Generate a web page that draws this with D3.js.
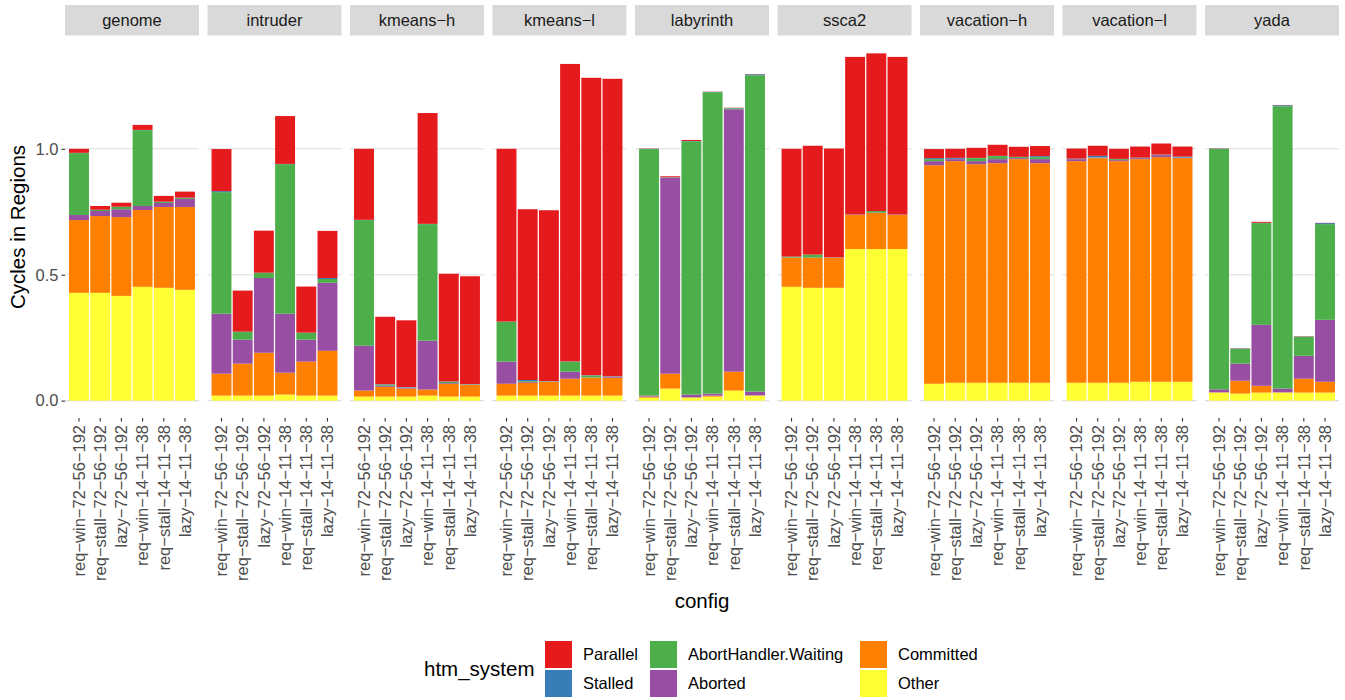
<!DOCTYPE html>
<html lang="en">
<head>
  <meta charset="UTF-8">
  <title>Cycles in Regions</title>
  <style>
    body { margin: 0; background: #fff; }
    text { font-family: "Liberation Sans", Arial, sans-serif; }
  </style>
</head>
<body>
<script src="https://d3js.org/d3.v7.min.js"></script>
<div id="chart"></div>
<script>
// ---- data ------------------------------------------------------------
const benchmarks = ["genome", "intruder", "kmeans-h", "kmeans-l", "labyrinth",
  "ssca2", "vacation-h", "vacation-l", "yada"];
const configs = ["req-win-72-56-192", "req-stall-72-56-192", "lazy-72-56-192",
  "req-win-14-11-38", "req-stall-14-11-38", "lazy-14-11-38"];

// one row per benchmark, one value per config
const other = [
  [.428, .428, .416, .452, .448, .440],
  [.020, .020, .020, .024, .020, .020],
  [.016, .016, .016, .020, .016, .016],
  [.020, .020, .020, .020, .020, .020],
  [.012, .048, .012, .016, .040, .020],
  [.452, .448, .448, .602, .602, .602],
  [.067, .071, .071, .071, .071, .071],
  [.071, .071, .071, .075, .075, .075],
  [.032, .028, .032, .032, .032, .032]
];
const committed = [
  [.289, .305, .313, .305, .321, .329],
  [.087, .127, .170, .087, .135, .178],
  [.024, .039, .032, .024, .051, .047],
  [.047, .051, .055, .067, .071, .071],
  [.004, .059, .001, .004, .075, .001],
  [.115, .119, .119, .135, .143, .135],
  [.868, .880, .868, .872, .888, .872],
  [.880, .892, .880, .884, .892, .888],
  [.001, .051, .027, .001, .055, .043]
];
const aborted = [
  [.020, .020, .031, .016, .016, .032],
  [.238, .095, .297, .234, .087, .270],
  [.178, .004, .004, .194, .003, .001],
  [.088, .004, .001, .028, .001, .004],
  [.004, .778, .011, .008, 1.042, .015],
  [.001, .001, .001, .001, .002, .001],
  [.016, .008, .012, .016, .004, .016],
  [.008, .002, .004, .004, .008, .001],
  [.012, .068, .242, .015, .091, .246]
];
const waiting = [
  [.246, .004, .009, .301, .004, .004],
  [.483, .031, .020, .594, .027, .015],
  [.499, .004, .001, .463, .005, .001],
  [.158, .003, .001, .040, .008, .001],
  [.979, .001, 1.006, 1.197, .004, 1.256],
  [.004, .012, .001, .001, .006, .001],
  [.008, .001, .012, .012, .004, .008],
  [.001, .001, .004, .001, .001, .001],
  [.955, .059, .404, 1.121, .076, .380]
];
const stalled = [
  [.001, .001, .001, .001, .001, .001],
  [.004, .001, .001, .001, .001, .004],
  [.001, .002, .001, .001, .001, .001],
  [.001, .004, .001, .001, .001, .001],
  [.001, .001, .001, .001, .001, .004],
  [.000, .000, .000, .000, .000, .000],
  [.004, .004, .001, .001, .001, .004],
  [.001, .006, .001, .001, .001, .004],
  [.001, .001, .001, .004, .001, .004]
];
const parallel = [
  [.016, .015, .016, .020, .023, .024],
  [.167, .163, .167, .190, .183, .187],
  [.282, .268, .265, .440, .428, .428],
  [.686, .678, .678, 1.181, 1.181, 1.181],
  [.001, .004, .004, .001, .001, .001],
  [.428, .432, .432, .626, .626, .626],
  [.036, .036, .040, .044, .040, .040],
  [.040, .040, .040, .044, .044, .040],
  [.001, .001, .004, .001, .001, .001]
];

// stacking order, bottom to top
const seriesNames = ["Other", "Committed", "Aborted", "AbortHandler.Waiting", "Stalled", "Parallel"];
const seriesData = [other, committed, aborted, waiting, stalled, parallel];
const colors = {
  "Parallel": "#E41A1C", "Stalled": "#377EB8", "AbortHandler.Waiting": "#4DAF4A",
  "Aborted": "#984EA3", "Committed": "#FF7F00", "Other": "#FFFF33"
};
// legend layout (column-wise, like the reference)
const legendOrder = ["Parallel", "Stalled", "AbortHandler.Waiting", "Aborted", "Committed", "Other"];

// ---- layout ----------------------------------------------------------
const W = 1345, H = 700;
const plotLeft = 65, plotRight = 1339;
const panelTop = 36, panelBottom = 418;
const stripTop = 5;

const svg = d3.select("#chart").append("svg")
  .attr("width", W).attr("height", H);

const panel = d3.scaleBand()
  .domain(benchmarks)
  .range([plotLeft, plotRight])
  .paddingInner(0.06);

const x = d3.scaleBand()
  .domain(configs)
  .range([0, panel.bandwidth()])
  .paddingInner(0.06)
  .paddingOuter(0.19);

const stack = d3.stack().keys(seriesNames);

const tables = benchmarks.map((b, bi) => configs.map((c, ci) => {
  const row = {config: c};
  seriesNames.forEach((s, si) => row[s] = seriesData[si][bi][ci]);
  return row;
}));

const maxTotal = d3.max(tables.flat(), r => d3.sum(seriesNames, s => r[s]));
const y = d3.scaleLinear()
  .domain([-0.05 * maxTotal, 1.05 * maxTotal])
  .range([panelBottom, panelTop]);

const fmt = d3.format(".1f");
const yTicks = [0, 0.5, 1.0];
const minus = s => s.replace(/-/g, "\u2212");

benchmarks.forEach((b, bi) => {
  const g = svg.append("g").attr("transform", `translate(${panel(b)},0)`);

  // strip
  g.append("rect")
    .attr("x", 0).attr("y", stripTop)
    .attr("width", panel.bandwidth()).attr("height", panelTop - stripTop - 0.5)
    .attr("fill", "#d9d9d9");
  g.append("text")
    .attr("x", panel.bandwidth() / 2).attr("y", (stripTop + panelTop) / 2)
    .attr("dy", "0.35em")
    .attr("text-anchor", "middle")
    .attr("font-size", 16.5).attr("fill", "#1a1a1a")
    .text(minus(b));

  // grid
  g.selectAll(".grid").data(yTicks).join("line")
    .attr("x1", 0).attr("x2", panel.bandwidth())
    .attr("y1", d => y(d)).attr("y2", d => y(d))
    .attr("stroke", "#dcdcdc").attr("stroke-width", 1.1);

  // bars
  const layers = stack(tables[bi]);
  g.selectAll(".layer").data(layers).join("g")
    .attr("fill", d => colors[d.key])
    .selectAll("rect").data(d => d).join("rect")
      .attr("x", d => x(d.data.config))
      .attr("width", x.bandwidth())
      .attr("y", d => y(d[1]))
      .attr("height", d => Math.max(0, y(d[0]) - y(d[1])));

  // x axis
  const xAxis = g.append("g")
    .attr("transform", `translate(0,${panelBottom})`)
    .call(d3.axisBottom(x).tickSize(3.5).tickPadding(3).tickFormat(minus));
  xAxis.select(".domain").remove();
  xAxis.selectAll(".tick line").attr("stroke", "#333").attr("stroke-width", 1.1);
  xAxis.selectAll(".tick text")
    .attr("font-size", 16.5).attr("fill", "#4d4d4d")
    .attr("font-family", "Liberation Sans, Arial, sans-serif")
    .attr("transform", "rotate(-90)")
    .attr("text-anchor", "end")
    .attr("x", -7).attr("y", 0).attr("dy", "0.35em");
});

// y axis
const yAxis = svg.append("g")
  .attr("transform", `translate(${plotLeft},0)`)
  .call(d3.axisLeft(y).tickValues(yTicks).tickFormat(fmt).tickSize(3.5).tickPadding(3));
yAxis.select(".domain").remove();
yAxis.selectAll(".tick line").attr("stroke", "#333").attr("stroke-width", 1.1);
yAxis.selectAll(".tick text")
  .attr("font-size", 16.5).attr("fill", "#4d4d4d")
  .attr("font-family", "Liberation Sans, Arial, sans-serif");

// axis titles
svg.append("text")
  .attr("transform", `translate(18,${(panelTop + panelBottom) / 2}) rotate(-90)`)
  .attr("text-anchor", "middle").attr("dy", "0.35em")
  .attr("font-size", 20.5).attr("fill", "#000")
  .text("Cycles in Regions");
svg.append("text")
  .attr("x", (plotLeft + plotRight) / 2).attr("y", 601)
  .attr("text-anchor", "middle").attr("dy", "0.35em")
  .attr("font-size", 20.5).attr("fill", "#000")
  .text("config");

// legend
const legend = svg.append("g");
legend.append("text")
  .attr("x", 424).attr("y", 669).attr("dy", "0.35em")
  .attr("font-size", 20.5).attr("fill", "#000")
  .text("htm_system");
const colX = [545, 650, 860];
const rowY = [641, 670];
legendOrder.forEach((k, i) => {
  const cx = colX[Math.floor(i / 2)], cy = rowY[i % 2];
  legend.append("rect")
    .attr("x", cx).attr("y", cy).attr("width", 27).attr("height", 27)
    .attr("fill", colors[k]);
  legend.append("text")
    .attr("x", cx + 38).attr("y", cy + 13.5).attr("dy", "0.35em")
    .attr("font-size", 16.5).attr("fill", "#000")
    .text(k);
});
</script>
</body>
</html>
